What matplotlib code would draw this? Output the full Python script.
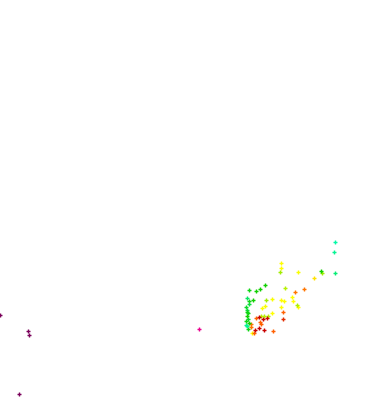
import matplotlib
matplotlib.use("Agg")
import matplotlib.pyplot as plt
from matplotlib.colors import LinearSegmentedColormap
import numpy as np

# point values (arbitrary units) and colour values
x = [335, 334, 335,
     281, 281, 298, 314, 292, 293, 272, 281, 284, 265, 298, 281, 262, 272, 252,
     280, 322, 285, 266, 297, 261, 264, 268,
     321, 265, 249, 260, 256, 249, 253, 248,
     247,
     304, 295, 283, 256, 260, 261, 273, 254, 251, 251,
     283,
     259, 263, 267, 259, 264, 255,
     246, 247,
     246, 247, 248, 247, 248, 246, 249, 249, 247,
     0, 28, 29, 19,
     199]
y = [163, 153, 132,
     142, 137, 133, 127, 108, 104, 106, 105, 104, 99, 98, 98, 97, 92, 72,
     133, 132, 117, 105, 100, 89, 89, 89,
     134, 120, 115, 116, 114, 104, 105, 76,
     107,
     116, 113, 93, 87, 83, 81, 74, 72, 78, 81,
     86,
     88, 86, 87, 77, 75, 75,
     80, 79,
     98, 95, 92, 89, 86, 84, 82, 101, 93,
     90, 74, 70, 11,
     76]
c = [0.97, 0.95, 0.92,
     0.55, 0.55, 0.56, 0.52, 0.55, 0.55, 0.56, 0.55, 0.55, 0.56, 0.55, 0.55, 0.55, 0.55, 0.55,
     0.68, 0.68, 0.66, 0.68, 0.67, 0.66, 0.66, 0.66,
     0.80, 0.80, 0.82, 0.80, 0.80, 0.82, 0.80, 0.82,
     0.90,
     0.42, 0.42, 0.40, 0.40, 0.40, 0.40, 0.40, 0.40, 0.42, 0.42,
     0.33,
     0.27, 0.27, 0.28, 0.27, 0.27, 0.27,
     0.95, 0.95,
     0.84, 0.86, 0.82, 0.80, 0.84, 0.82, 0.80, 0.86, 0.82,
     0.0, 0.0, 0.0, 0.0,
     0.12]

cmap = LinearSegmentedColormap.from_list("pal", [
    (0.0, "#7a005a"), (0.12, "#ec0090"), (0.27, "#c80000"),
    (0.40, "#ff6000"), (0.55, "#ffff00"), (0.67, "#b0f000"),
    (0.80, "#10d000"), (1.0, "#00ffc0")])

fig = plt.figure(figsize=(3.78, 4.06), dpi=100)
ax = fig.add_axes([0, 0, 1, 1])
ax.scatter(x, y, c=c, cmap=cmap, vmin=0, vmax=1, marker="+", s=5, linewidths=1)
ax.set_xlim(0, 378)
ax.set_ylim(0, 406)
ax.axis("off")
fig.savefig("out.png", dpi=100)
